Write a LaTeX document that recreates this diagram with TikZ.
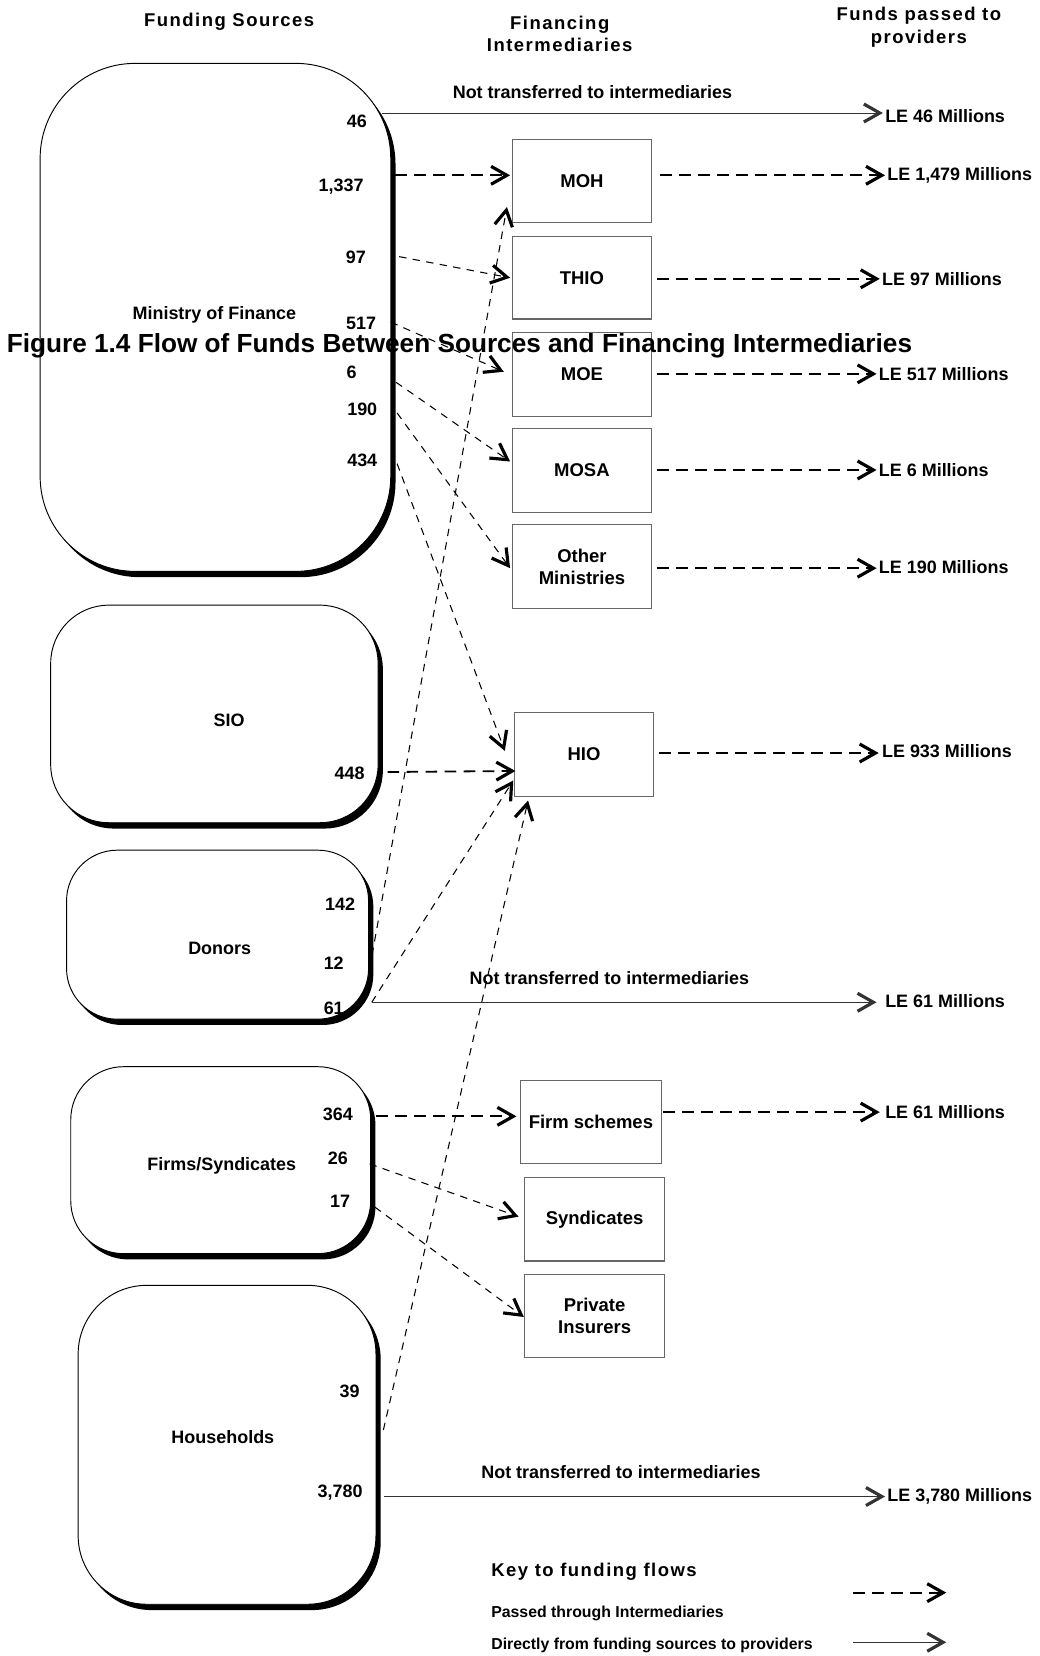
\documentclass[tikz,border=0pt]{standalone}
\usepackage{fontspec}
\setmainfont{Liberation Sans}
\newfontfamily\hdrfont[LetterSpace=8]{Liberation Sans}
\usetikzlibrary{arrows.meta,shadows}
\begin{document}
\begin{tikzpicture}[x=1pt,y=-1pt,
  vtip/.style={-{Straight Barb[length=15pt,width=17pt,line width=3pt]}},
  lbl/.style={font=\fontsize{17}{21}\selectfont\bfseries, inner sep=0pt, align=center},
  keylbl/.style={font=\fontsize{15}{18}\selectfont\bfseries, inner sep=0pt, anchor=west},
  hdr/.style={font=\hdrfont\fontsize{17.5}{21.5}\selectfont\bfseries, inner sep=0pt, align=center},
  srcbox/.style={draw, line width=0.9pt, fill=white,
    drop shadow={shadow xshift=4.5pt, shadow yshift=-5.5pt, fill=black, opacity=1}},
  ibox/.style={draw=black!60, line width=1.1pt, fill=white, inner sep=0pt,
    font=\fontsize{17.5}{21}\selectfont\bfseries, align=center},
  solidflow/.style={draw=black!80, line width=0.9pt, vtip},
  dthick/.style={line width=1.7pt, dash pattern=on 11pt off 7pt, vtip},
  dthin/.style={line width=1.0pt, dash pattern=on 7pt off 6pt, vtip},
]
\useasboundingbox (0,0) rectangle (984,1568);

% ---- source boxes
\node[srcbox, minimum width=332pt, minimum height=481pt, rounded corners=90pt] (mof) at (204,300.5) {};
\node[srcbox, minimum width=310pt, minimum height=206pt, rounded corners=55pt] (sio) at (203,676) {};
\node[srcbox, minimum width=286pt, minimum height=160pt, rounded corners=48pt] (don) at (206,885) {};
\node[srcbox, minimum width=284pt, minimum height=177pt, rounded corners=50pt] (firms) at (209,1098.5) {};
\node[srcbox, minimum width=282pt, minimum height=302pt, rounded corners=65pt] (hh) at (215,1368) {};

% ---- intermediary boxes
\node[ibox, minimum width=132pt, minimum height=79pt] (moh) at (551,171.5) {MOH};
\node[ibox, minimum width=132pt, minimum height=78pt] (thio) at (551,263) {THIO};
\node[ibox, minimum width=132pt, minimum height=79pt] (moe) at (551,354.5) {MOE};
\node[ibox, minimum width=132pt, minimum height=79pt] (mosa) at (551,445.5) {MOSA};
\node[ibox, minimum width=132pt, minimum height=79pt] (oth) at (551,536.5) {Other\\Ministries};
\node[ibox, minimum width=132pt, minimum height=79pt] (hio) at (553,714.5) {HIO};
\node[ibox, minimum width=133pt, minimum height=79pt] (firm) at (559.5,1062.5) {Firm schemes};
\node[ibox, minimum width=132pt, minimum height=79pt] (synd) at (563,1154.5) {Syndicates};
\node[ibox, minimum width=132pt, minimum height=78pt] (priv) at (563,1246) {Private\\Insurers};

% ---- headers
\node[hdr] (h1) at (217,21) {Funding Sources};
\node[hdr] (h2) at (530,32) {Financing\\Intermediaries};
\node[hdr] (h3) at (870,26) {Funds passed to\\providers};

% ---- source labels
\node[lbl] (lmof) at (203,298) {Ministry of Finance};
\node[lbl] (lsio) at (217,682) {SIO};
\node[lbl] (ldon) at (208,898) {Donors};
\node[lbl] (lfirms) at (210,1104) {Firms/Syndicates};
\node[lbl] (lhh) at (211,1361) {Households};

% ---- number labels
\node[lbl] (n46) at (338,115) {46};
\node[lbl] (n1337) at (323,177) {1,337};
\node[lbl] (n97) at (337,244) {97};
\node[lbl] (n517) at (342,306) {517};
\node[lbl] (n6) at (333,353) {6};
\node[lbl] (n190) at (343,388) {190};
\node[lbl] (n434) at (343,436) {434};
\node[lbl] (n448) at (331,732) {448};
\node[lbl] (n142) at (322,856) {142};
\node[lbl] (n12) at (316,912) {12};
\node[lbl] (n61) at (316,955) {61};
\node[lbl] (n364) at (320,1055) {364};
\node[lbl] (n26) at (320,1097) {26};
\node[lbl] (n17) at (322,1137) {17};
\node[lbl] (n39) at (331,1317) {39};
\node[lbl] (n3780) at (322,1413) {3,780};

% ---- provider labels
\node[lbl, anchor=west] (le46) at (838,110) {LE 46 Millions};
\node[lbl, anchor=west] (le1479) at (840,166) {LE 1,479 Millions};
\node[lbl, anchor=west] (le97) at (835,264) {LE 97 Millions};
\node[lbl, anchor=west] (le517) at (832,354) {LE 517 Millions};
\node[lbl, anchor=west] (le6) at (832,445) {LE 6 Millions};
\node[lbl, anchor=west] (le190) at (832,537) {LE 190 Millions};
\node[lbl, anchor=west] (le933) at (835,711) {LE 933 Millions};
\node[lbl, anchor=west] (le61a) at (838,948) {LE 61 Millions};
\node[lbl, anchor=west] (le61b) at (838,1053) {LE 61 Millions};
\node[lbl, anchor=west] (le3780) at (840,1417) {LE 3,780 Millions};

% ---- "not transferred" labels
\node[lbl] (nt1) at (561,87) {Not transferred to intermediaries};
\node[lbl] (nt2) at (577,926) {Not transferred to intermediaries};
\node[lbl] (nt3) at (588,1394) {Not transferred to intermediaries};

% ---- connector coordinates
\coordinate (s46) at (362,107);   \coordinate (t46) at (836,107);
\coordinate (s1337) at (374,166); \coordinate (t1337) at (483,166);
\coordinate (s97) at (378,243);   \coordinate (t97) at (483,263);
\coordinate (s517) at (370,305);  \coordinate (t517) at (477,352);
\coordinate (s6) at (375,362);    \coordinate (t6) at (483,437);
\coordinate (s190) at (376,391);  \coordinate (t190) at (483,538);
\coordinate (s434) at (376,439);  \coordinate (t434) at (478,711);
\coordinate (s448) at (367,731);  \coordinate (t448) at (488,730);
\coordinate (s12) at (350,917);   \coordinate (t12) at (480,196);
\coordinate (s61) at (352,949);   \coordinate (t61d) at (486,739); \coordinate (t61) at (830,949);
\coordinate (s364) at (356,1057); \coordinate (t364) at (489,1057);
\coordinate (s26) at (350,1102);  \coordinate (t26) at (491,1152);
\coordinate (s17) at (355,1143);  \coordinate (t17) at (496,1247);
\coordinate (s39) at (363,1354);  \coordinate (t39) at (500,758);
\coordinate (s3780) at (364,1417); \coordinate (t3780) at (838,1417);

% intermediary outputs
\coordinate (omoh) at (625,166);  \coordinate (pmoh) at (838,166);
\coordinate (othio) at (622,264); \coordinate (pthio) at (833,264);
\coordinate (omoe) at (622,354);  \coordinate (pmoe) at (830,354);
\coordinate (omosa) at (622,445); \coordinate (pmosa) at (830,445);
\coordinate (ooth) at (622,538);  \coordinate (poth) at (830,538);
\coordinate (ohio) at (624,713);  \coordinate (phio) at (832,713);
\coordinate (ofirm) at (628,1053); \coordinate (pfirm) at (833,1053);

% ---- flows
\draw[solidflow] (s46) -- (t46);
\draw[solidflow] (s61) -- (t61);
\draw[solidflow] (s3780) -- (t3780);

\draw[dthick] (s1337) -- (t1337);
\draw[dthin] (s97) -- (t97);
\draw[dthin] (s517) -- (t517);
\draw[dthin] (s6) -- (t6);
\draw[dthin] (s190) -- (t190);
\draw[dthin] (s434) -- (t434);
\draw[dthick] (s448) -- (t448);
\draw[dthin] (s12) -- (t12);
\draw[dthin] (s61) -- (t61d);
\draw[dthin] (s39) -- (t39);
\draw[dthick] (s364) -- (t364);
\draw[dthin] (s26) -- (t26);
\draw[dthin] (s17) -- (t17);

\draw[dthick] (omoh) -- (pmoh);
\draw[dthick] (othio) -- (pthio);
\draw[dthick] (omoe) -- (pmoe);
\draw[dthick] (omosa) -- (pmosa);
\draw[dthick] (ooth) -- (poth);
\draw[dthick] (ohio) -- (phio);
\draw[dthick] (ofirm) -- (pfirm);

% ---- key
\node[hdr, anchor=west] (key) at (465,1488) {Key to funding flows};
\node[keylbl] (kpass) at (465,1528) {Passed through Intermediaries};
\node[keylbl] (kdir) at (465,1558) {Directly from funding sources to providers};
\coordinate (kd1) at (808,1508); \coordinate (kd2) at (896,1508);
\coordinate (ks1) at (808,1555); \coordinate (ks2) at (896,1555);
\draw[dthick] (kd1) -- (kd2);
\draw[solidflow] (ks1) -- (ks2);

% ---- title (drawn over everything)
\node[font=\fontsize{24.8}{29}\selectfont\bfseries, inner sep=0pt] (title) at (435,327)
  {Figure 1.4 Flow of Funds Between Sources and Financing Intermediaries};
\end{tikzpicture}
\end{document}
